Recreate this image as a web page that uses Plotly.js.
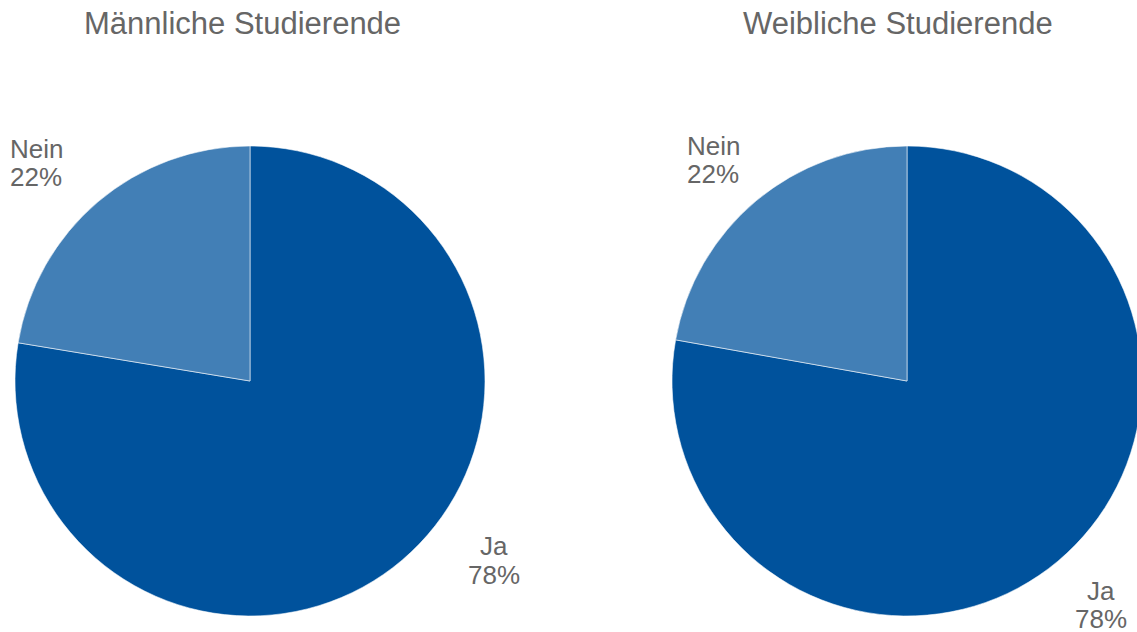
<!DOCTYPE html>
<html>
<head>
<meta charset="utf-8">
<script src="https://cdn.plot.ly/plotly-3.0.1.min.js"></script>
<style>
  html, body { margin: 0; padding: 0; overflow: hidden; background: #fff; }
  #chart { width: 1150px; height: 632px; }
</style>
</head>
<body>
<div id="chart"></div>
<script>
// ---- data ----
const categories = ["Ja", "Nein"];
const maleValues = [77.6, 22.4];
const femaleValues = [77.8, 22.2];
const chartTitles = ["Männliche Studierende", "Weibliche Studierende"];

// ---- styling / layout ----
const W = 1150, H = 632;
const sliceColors = ["#00529C", "#427FB6"];
const textColor = "#666666";
const fontFamily = "Liberation Sans, Arial, sans-serif";
const fx = x => x / W;
const fy = y => 1 - y / H;

function pieTrace(values, x0, x1, y0, y1) {
  return {
    type: "pie",
    labels: categories,
    values: values,
    sort: false,
    direction: "clockwise",
    rotation: 0,
    textinfo: "none",
    textposition: "none",
    hoverinfo: "label+percent",
    marker: { colors: sliceColors, line: { color: "rgba(255,255,255,0.7)", width: 0.8 } },
    domain: { x: [fx(x0), fx(x1)], y: [fy(y1), fy(y0)] },
    showlegend: false
  };
}

const traces = [
  pieTrace(maleValues, 15, 485, 146, 616),
  pieTrace(femaleValues, 672, 1142, 146, 616)
];

function ann(text, x, y, size) {
  return {
    text: text, xref: "paper", yref: "paper", x: fx(x), y: fy(y),
    xanchor: "center", yanchor: "middle", showarrow: false,
    font: { family: fontFamily, size: size, color: textColor }
  };
}
const pct = v => Math.round(v) + "%";

// label positions (pixel centres of text lines)
const labelPos = [
  { // male
    title: [242, 24],
    Ja: [494, 546], JaPct: [494, 575],
    Nein: [36, 149], NeinPct: [36, 177]
  },
  { // female
    title: [898, 24],
    Ja: [1101, 591], JaPct: [1101, 619],
    Nein: [713, 146], NeinPct: [713, 174]
  }
];

const annotations = [];
[maleValues, femaleValues].forEach((vals, i) => {
  const p = labelPos[i];
  annotations.push(ann(chartTitles[i], p.title[0], p.title[1], 31));
  annotations.push(ann(categories[0], p.Ja[0], p.Ja[1], 26));
  annotations.push(ann(pct(vals[0]), p.JaPct[0], p.JaPct[1], 26));
  annotations.push(ann(categories[1], p.Nein[0], p.Nein[1], 26));
  annotations.push(ann(pct(vals[1]), p.NeinPct[0], p.NeinPct[1], 26));
});

const layout = {
  width: W, height: H,
  margin: { l: 0, r: 0, t: 0, b: 0, pad: 0 },
  paper_bgcolor: "#ffffff",
  plot_bgcolor: "#ffffff",
  showlegend: false,
  annotations: annotations,
  font: { family: fontFamily, color: textColor }
};

Plotly.newPlot("chart", traces, layout, { displayModeBar: false, staticPlot: true });
</script>
</body>
</html>
